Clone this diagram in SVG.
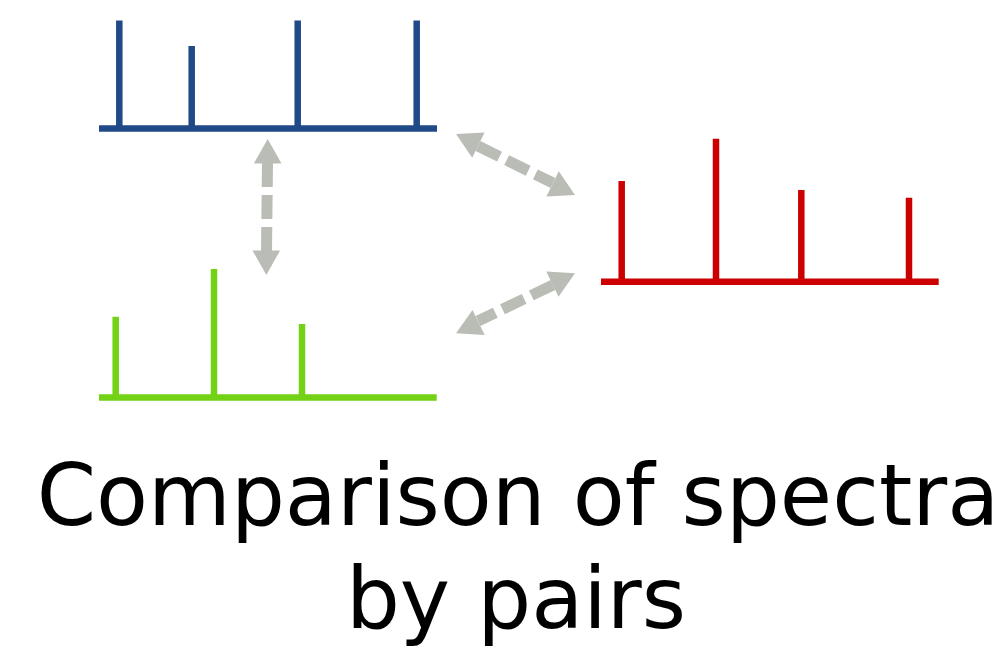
<svg xmlns="http://www.w3.org/2000/svg" width="1006" height="664" viewBox="0 0 1006 664">
<style>
.blue{stroke:#204a87;stroke-width:6.5;fill:none}
.red{stroke:#cc0000;stroke-width:6.5;fill:none}
.green{stroke:#73d216;stroke-width:6.5;fill:none}
.shaft{stroke:#babdb6;stroke-width:11;fill:none;stroke-dasharray:24 8}
.head{fill:#babdb6}
.label{font-family:"DejaVu Sans",sans-serif;font-size:85px;fill:#000;text-anchor:middle}
</style>
<rect width="1006" height="664" fill="#fff"/>
<g id="spectrum-blue" class="blue">
<path d="M99,128.5H437M119.3,128.5V20.5M191.7,128.5V46M297.7,128.5V20.5M416.7,128.5V20.5"/>
</g>
<g id="spectrum-red" class="red">
<path d="M601,281.7H938.7M621.7,281.7V181M716,281.7V138.7M801.3,281.7V190M909,281.7V197.7"/>
</g>
<g id="spectrum-green" class="green">
<path d="M99,397.5H436.7M115.7,397.5V316.7M214,397.5V269M302,397.5V324"/>
</g>
<g id="connectors">
<g id="arrow-blue-green">
<line class="shaft" x1="267.5" y1="163" x2="266.5" y2="251"/>
<polygon class="head" points="267.7,139 281.5,163.5 253.9,163.5"/>
<polygon class="head" points="266.3,275 252.5,250.5 280.1,250.5"/>
</g>
<g id="arrow-blue-red">
<line class="shaft" x1="478" y1="146" x2="553" y2="183" stroke-dasharray="24 8"/>
<polygon class="head" points="456,134 484.6,132.6 472.2,157.7"/>
<polygon class="head" points="575,195 546.4,196.4 558.8,171.3"/>
</g>
<g id="arrow-green-red">
<line class="shaft" x1="553" y1="285" x2="478" y2="321"/>
<polygon class="head" points="575,273.3 558.5,296.7 546.3,271.6"/>
<polygon class="head" points="456,333.3 472.5,309.9 484.7,335"/>
</g>
</g>
<g id="caption">
<text class="label" x="518" y="525">Comparison of spectra</text>
<text class="label" x="516" y="628">by pairs</text>
</g>
</svg>
